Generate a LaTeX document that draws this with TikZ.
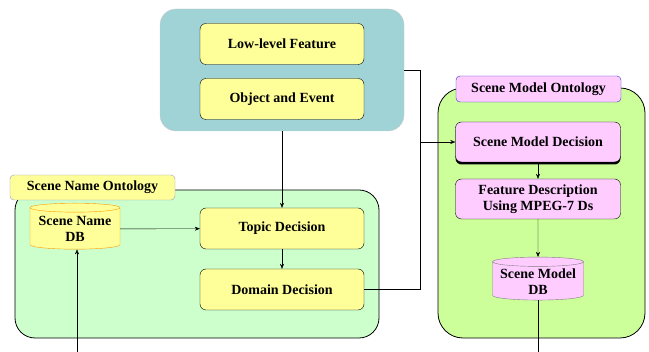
\documentclass[tikz,border=0pt]{standalone}
\usepackage{fontspec}
\setmainfont{Liberation Serif}
\usepackage{tikz}
\usetikzlibrary{shapes.geometric, shadows, arrows.meta}
\definecolor{teal}{RGB}{159, 211, 214}
\definecolor{lemon}{RGB}{255, 255, 153}
\definecolor{mint}{RGB}{204, 255, 204}
\definecolor{lime}{RGB}{204, 255, 153}
\definecolor{pink}{RGB}{255, 204, 255}
\definecolor{slate}{RGB}{150, 150, 200}
\definecolor{royal}{RGB}{51, 51, 204}
\definecolor{amber}{RGB}{255, 153, 0}

\tikzset{
  task/.style={draw, rounded corners=6pt, minimum width=164pt, minimum height=41pt, align=center, fill=lemon},
  stage/.style={task, fill=pink, minimum width=165pt, minimum height=40pt},
  tag/.style={draw, rounded corners=4pt, minimum width=165pt, minimum height=25pt},
  store/.style={cylinder, shape border rotate=90, aspect=0.12, draw, align=center, inner sep=1pt}
}

\begin{document}
\begin{tikzpicture}[x=1pt, y=-1pt, font=\fontsize{14}{16.5}\selectfont\bfseries, >={Stealth[length=5pt, width=4pt]}]

  \useasboundingbox (0, 0) rectangle (649, 352);

  % containers
  \node[fill=teal, draw=gray!40, rounded corners=16pt, minimum width=244pt, minimum height=122pt] (feat) at (282, 70) {};
  \node[fill=mint, draw, thick, rounded corners=20pt, minimum width=364pt, minimum height=148pt] (sno) at (197, 264) {};
  \node[fill=lime, draw, thick, rounded corners=25pt, minimum width=207pt, minimum height=250pt] (smo) at (541.5, 213) {};

  \node[tag, fill=lemon, draw=slate] (snolab) at (92.5, 187.5) {Scene Name Ontology};
  \node[tag, fill=pink, draw=royal, minimum height=26pt] (smolab) at (538.5, 89) {Scene Model Ontology};

  \node[task] (low) at (282, 44) {Low-level Feature};
  \node[task] (obj) at (282, 99) {Object and Event};
  \node[task] (topic) at (282, 228.5) {Topic Decision};
  \node[task] (domain) at (282, 289.5) {Domain Decision};

  \node[stage, drop shadow={shadow xshift=0pt, shadow yshift=-2.5pt, fill=black, opacity=1}] (smd) at (538, 142) {Scene Model Decision};
  \node[stage] (fdesc) at (538, 199) {Feature Description\\Using MPEG-7 Ds};

  \node[store, fill=lemon, draw=amber, minimum width=90pt, minimum height=46pt] (sndb) at (75, 229) {Scene Name\\DB};
  \node[store, fill=pink, draw=gray, minimum width=91pt, minimum height=43pt] (smdb) at (538, 281.5) {Scene Model\\DB};

  \coordinate (join) at (420, 142);
  \coordinate (inlet) at (77, 352);
  \coordinate (outlet) at (538, 352);

  % connectors
  \draw[->] (feat.south) -- (topic.north);
  \draw[->] (topic.south) -- (domain.north);
  \draw[->] (sndb) -- (topic);
  \draw[->] (inlet) -- (inlet |- sndb.south);
  \draw (feat.east) -| (join);
  \draw (domain.east) -| (join);
  \draw[->] (join) -- (smd.west);
  \draw[->] (smd.south) -- (fdesc.north);
  \draw[->] (fdesc) -- (smdb);
  \draw (smdb.south) -- (outlet);

\end{tikzpicture}
\end{document}
